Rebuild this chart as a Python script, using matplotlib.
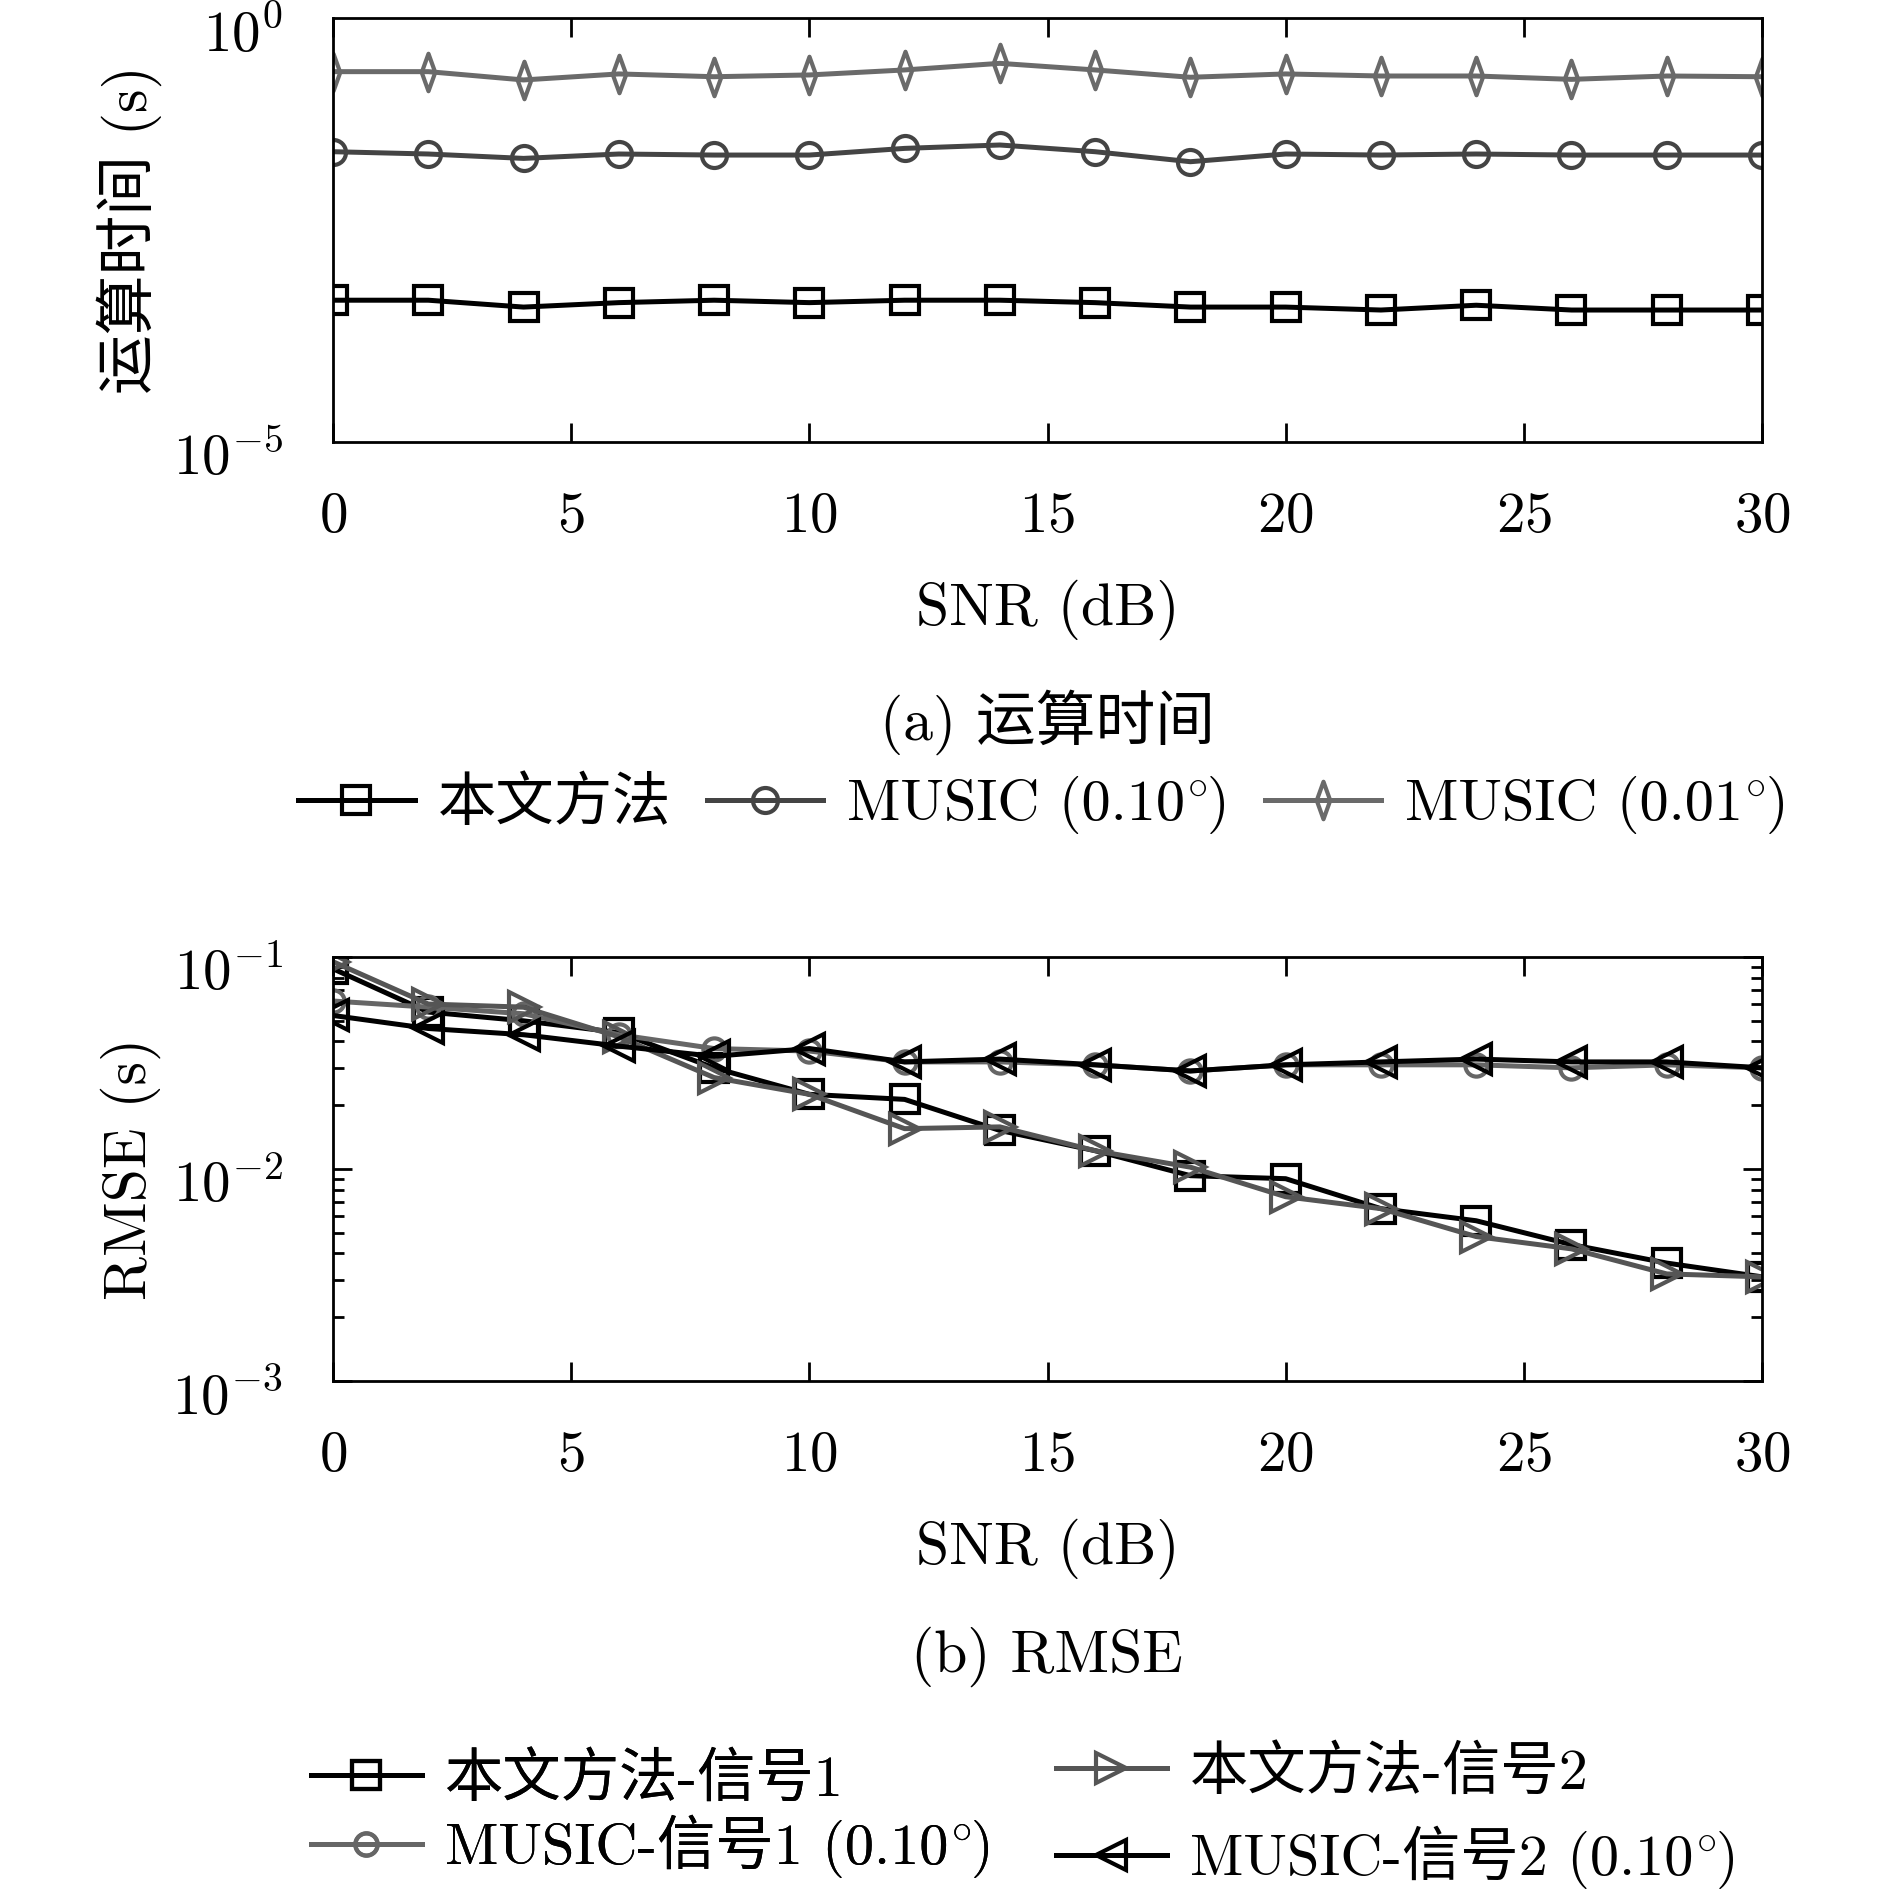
import matplotlib
matplotlib.use("Agg")
import matplotlib.pyplot as plt
import numpy as np
from matplotlib.path import Path
from matplotlib.offsetbox import HPacker, TextArea
from matplotlib.ticker import NullLocator, LogLocator, FixedLocator
from matplotlib.transforms import ScaledTranslation

plt.rcParams["font.family"] = ["cmr10", "Noto Sans CJK SC"]
plt.rcParams["mathtext.fontset"] = "cm"
plt.rcParams["axes.formatter.use_mathtext"] = True
plt.rcParams["axes.unicode_minus"] = False

# ---- data ----
snr = np.arange(0, 31, 2)

# (a) run time, s
time_proposed = [4.7e-4, 4.7e-4, 3.9e-4, 4.4e-4, 4.7e-4, 4.4e-4, 4.7e-4, 4.7e-4,
                 4.4e-4, 3.9e-4, 3.9e-4, 3.6e-4, 4.1e-4, 3.6e-4, 3.6e-4, 3.6e-4]
time_music_010 = [0.0265, 0.0249, 0.0221, 0.0249, 0.0242, 0.0242, 0.0290, 0.0318,
                  0.0265, 0.0202, 0.0249, 0.0242, 0.0249, 0.0242, 0.0242, 0.0242]
time_music_001 = [0.233, 0.233, 0.186, 0.219, 0.203, 0.213, 0.244, 0.292,
                  0.244, 0.200, 0.219, 0.207, 0.207, 0.189, 0.207, 0.203]

# (b) RMSE
rmse_prop_1 = [0.088, 0.055, 0.050, 0.044, 0.030, 0.0225, 0.0213, 0.0152,
               0.0122, 0.0093, 0.0090, 0.0065, 0.0057, 0.0044, 0.0036, 0.0031]
rmse_prop_2 = [0.095, 0.060, 0.058, 0.042, 0.027, 0.0225, 0.0155, 0.0158,
               0.0122, 0.0102, 0.0074, 0.0065, 0.0048, 0.0042, 0.0032, 0.0031]
rmse_music_1 = [0.062, 0.058, 0.054, 0.043, 0.037, 0.036, 0.032, 0.032,
                0.031, 0.029, 0.031, 0.031, 0.031, 0.030, 0.031, 0.030]
rmse_music_2 = [0.053, 0.046, 0.043, 0.038, 0.034, 0.037, 0.032, 0.033,
                0.031, 0.029, 0.031, 0.032, 0.033, 0.032, 0.032, 0.030]

labels_a = ["本文方法", "MUSIC (0.10°)", "MUSIC (0.01°)"]
labels_b = ["本文方法-信号1", "MUSIC-信号1 (0.10°)",
            "本文方法-信号2", "MUSIC-信号2 (0.10°)"]

W, H = 1890, 1894
fig = plt.figure(figsize=(W / 100, H / 100), dpi=100)
fig.patch.set_facecolor("white")

FS = 41
LW = 3.6
MEW = 3.0
# narrow diamond like the MATLAB one
thin_diamond = Path([(0, 1), (0.36, 0), (0, -1), (-0.36, 0), (0, 1)],
                    [Path.MOVETO, Path.LINETO, Path.LINETO, Path.LINETO, Path.CLOSEPOLY])


def style_axes(ax):
    for s in ax.spines.values():
        s.set_linewidth(2.0)
    ax.set_xlim(0, 30)
    ax.set_xticks([0, 5, 10, 15, 20, 25, 30])
    ax.tick_params(axis="x", direction="in", top=True, length=14, width=2,
                   pad=36, labelsize=FS)


def shift_ylabels(ax):
    # MATLAB puts the log labels a little below their ticks
    off = ScaledTranslation(0, -8 / 72, fig.dpi_scale_trans)
    for lab in ax.get_yticklabels():
        lab.set_transform(lab.get_transform() + off)


def fix_degree(leg):
    # cmr10 has no real degree glyph: draw the ring with mathtext instead,
    # keeping the CJK part on the normal font fallback
    for col in leg._legend_handle_box.get_children():
        for item in col.get_children():
            kids = item.get_children()
            txt = kids[1]._text
            s = txt.get_text()
            if "°" not in s:
                continue
            head, tail = s.split("°")
            fp = txt.get_fontproperties()
            parts = [TextArea(head, textprops=dict(fontproperties=fp)),
                     TextArea(r"$^{\circ}$", textprops=dict(fontproperties=fp)),
                     TextArea(tail, textprops=dict(fontproperties=fp))]
            box = HPacker(children=parts, pad=0, sep=0, align="baseline")
            box.set_figure(fig)
            for p in parts:
                p.set_figure(fig)
            kids[1] = box


# ---- (a) ----
ax1 = fig.add_axes([333 / W, 1 - 442 / H, 1429 / W, 424 / H])
ax1.semilogy(snr, time_proposed, color="k", marker="s", ms=20, mfc="none",
             mew=MEW, lw=LW, label=labels_a[0])
ax1.semilogy(snr, time_music_010, color="#444444", marker="o", ms=18, mfc="none",
             mew=MEW, lw=LW, label=labels_a[1])
ax1.semilogy(snr, time_music_001, color="#6a6a6a", marker=thin_diamond, ms=27,
             mfc="none", mew=MEW, lw=LW, label=labels_a[2])
style_axes(ax1)
ax1.set_ylim(1e-5, 1)
ax1.yaxis.set_major_locator(FixedLocator([1e-5, 1]))
ax1.yaxis.set_minor_locator(NullLocator())
ax1.tick_params(axis="y", length=0, pad=36, labelsize=FS)
ax1.set_xlabel("SNR (dB)", fontsize=FS + 2, labelpad=26)
ax1.set_ylabel("运算时间 (s)", fontsize=FS + 2, labelpad=8)
fig.text(1047 / W, 1 - 722 / H, "(a) 运算时间", ha="center", va="center",
         fontsize=FS + 2)
leg_a = fig.legend(*ax1.get_legend_handles_labels(), loc="center",
                   bbox_to_anchor=(1043 / W, 1 - 805 / H), ncol=3, frameon=False,
                   fontsize=FS + 1, handlelength=2.0, handletextpad=0.4,
                   columnspacing=0.6, borderpad=0)
fix_degree(leg_a)

# ---- (b) ----
ax2 = fig.add_axes([333 / W, 1 - 1381 / H, 1429 / W, 424 / H])
l1, = ax2.semilogy(snr, rmse_prop_1, color="k", marker="s", ms=20, mfc="none",
                   mew=MEW, lw=LW, label=labels_b[0])
l2, = ax2.semilogy(snr, rmse_music_1, color="#666666", marker="o", ms=16, mfc="none",
                   mew=MEW, lw=LW, label=labels_b[1])
l3, = ax2.semilogy(snr, rmse_prop_2, color="#555555", marker=">", ms=22, mfc="none",
                   mew=MEW, lw=LW, label=labels_b[2])
l4, = ax2.semilogy(snr, rmse_music_2, color="k", marker="<", ms=22, mfc="none",
                   mew=MEW, lw=LW, label=labels_b[3])
style_axes(ax2)
ax2.set_ylim(1e-3, 1e-1)
ax2.yaxis.set_major_locator(FixedLocator([1e-3, 1e-2, 1e-1]))
ax2.yaxis.set_minor_locator(LogLocator(base=10, subs=np.arange(2, 10)))
ax2.tick_params(axis="y", which="major", direction="in", right=True, length=14,
                width=2, pad=36, labelsize=FS)
ax2.tick_params(axis="y", which="minor", direction="in", right=True, length=8,
                width=2)
ax2.set_xlabel("SNR (dB)", fontsize=FS + 2, labelpad=26)
ax2.set_ylabel("RMSE (s)", fontsize=FS + 2, labelpad=8)
fig.text(1047 / W, 1 - 1657 / H, "(b) RMSE", ha="center", va="center",
         fontsize=FS + 2)

leg_left = fig.legend([l1, l2], [labels_b[0], labels_b[1]], loc="center left",
                      bbox_to_anchor=(311 / W, 1 - 1815 / H), frameon=False,
                      fontsize=FS + 1, handlelength=1.9, handletextpad=0.4,
                      labelspacing=0.15, borderpad=0, borderaxespad=0)
leg_right = fig.legend([l3, l4], [labels_b[2], labels_b[3]], loc="center left",
                       bbox_to_anchor=(1056 / W, 1 - 1817 / H), frameon=False,
                       fontsize=FS + 1, handlelength=1.9, handletextpad=0.4,
                       labelspacing=0.45, borderpad=0, borderaxespad=0)
fig.add_artist(leg_left)
fix_degree(leg_left)
fix_degree(leg_right)

shift_ylabels(ax1)
shift_ylabels(ax2)

fig.savefig("out.png", dpi=100, facecolor="white")
